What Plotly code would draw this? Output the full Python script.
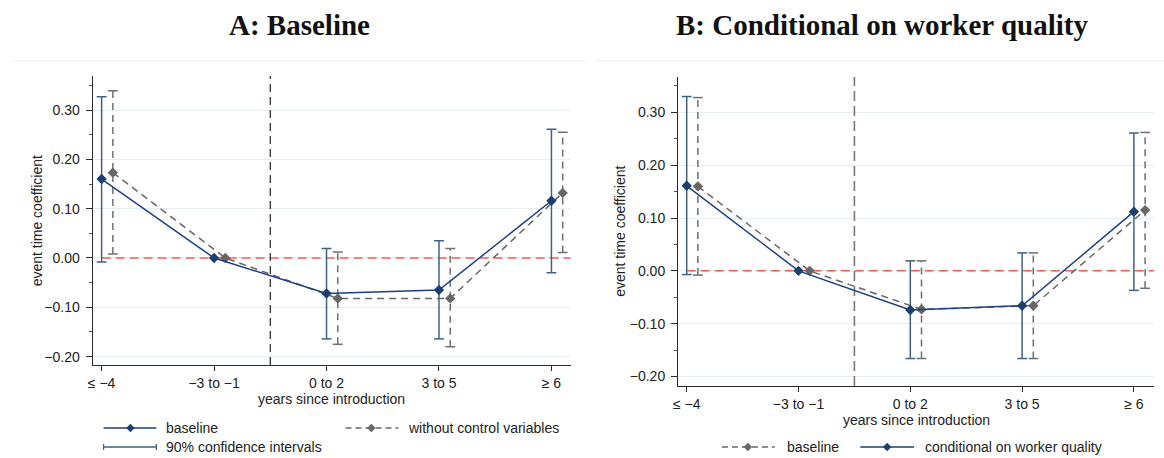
import numpy as np
import plotly.graph_objects as go

# ---------------- data ----------------
categories = ["≤ −4", "−3 to −1", "0 to 2", "3 to 5", "≥ 6"]
y_tick_vals = [-0.2, -0.1, 0.0, 0.1, 0.2, 0.3]
y_tick_text = ["−0.20", "−0.10", "0.00", "0.10", "0.20", "0.30"]

# Panel A
a_baseline = [0.160, 0.0, -0.072, -0.065, 0.116]
a_baseline_lo = [-0.008, None, -0.164, -0.164, -0.030]
a_baseline_hi = [0.327, None, 0.019, 0.035, 0.261]
a_noctrl = [0.173, 0.0, -0.082, -0.082, 0.132]
a_noctrl_lo = [0.008, None, -0.175, -0.180, 0.011]
a_noctrl_hi = [0.339, None, 0.012, 0.019, 0.255]

# Panel B
b_baseline = [0.160, 0.0, -0.073, -0.066, 0.115]
b_baseline_lo = [-0.008, None, -0.166, -0.166, -0.033]
b_baseline_hi = [0.328, None, 0.019, 0.034, 0.262]
b_cond = [0.161, 0.0, -0.074, -0.066, 0.112]
b_cond_lo = [-0.007, None, -0.166, -0.166, -0.037]
b_cond_hi = [0.330, None, 0.019, 0.034, 0.261]

zero_level = 0.0
intro_position = 2.5

# ---------------- style ----------------
W, H = 1164, 458
BLUE = "#1c3f8c"
BLUE_MK = "#1a3f70"
BLUE_CI = "#3e6186"
GRAY = "#666666"
GRAY_CI = "#6f6f6f"
RED = "#ff5a5a"
SANS = "Liberation Sans, Arial, sans-serif"
SERIF = "Liberation Serif, Times New Roman, serif"
GRAY_DASH = "7px,5px"

def px(x):
    return x / W

def py(y):
    return 1 - y / H

pos = np.arange(1, len(categories) + 1, dtype=float)
offset = 0.1

A_left, A_right, A_top, A_bot = 88, 568, 76, 365
B_left, B_right, B_top, B_bot = 676, 1154, 77, 386
xr_A = [0.92, 5.17]
xr_B = [0.923, 5.18]
yr_A = [-0.217, 0.369]
yr_B = [-0.218, 0.367]

fig = go.Figure()


def add_reflines(xa, ya, xr, yr, vcolor, vdash, vwidth):
    fig.add_trace(go.Scatter(x=[1, xr[1]], y=[zero_level, zero_level], mode="lines",
                             xaxis=xa, yaxis=ya,
                             line=dict(color=RED, width=1.5, dash="9px,5px"),
                             showlegend=False, hoverinfo="skip"))
    fig.add_trace(go.Scatter(x=[intro_position, intro_position], y=[yr[0], yr[1]],
                             mode="lines", xaxis=xa, yaxis=ya,
                             line=dict(color=vcolor, width=vwidth, dash=vdash),
                             showlegend=False, hoverinfo="skip"))


def add_series(xa, ya, xs, vals, lo, hi, color, mk_color, ci_color, dash, name):
    sx, sy, cx, cy = [], [], [], []
    for x, l, h in zip(xs, lo, hi):
        if l is None:
            continue
        sx += [x, x, None]
        sy += [l, h, None]
        cx += [x, x]
        cy += [l, h]
    fig.add_trace(go.Scatter(x=sx, y=sy, mode="lines", xaxis=xa, yaxis=ya,
                             line=dict(color=ci_color, width=1.5,
                                       dash=dash if dash else "solid"),
                             showlegend=False, hoverinfo="skip"))
    fig.add_trace(go.Scatter(x=cx, y=cy, mode="markers", xaxis=xa, yaxis=ya,
                             marker=dict(symbol="line-ew-open", size=7, color=ci_color,
                                         line=dict(color=ci_color, width=1.5)),
                             showlegend=False, hoverinfo="skip"))
    fig.add_trace(go.Scatter(x=list(xs), y=vals, mode="lines+markers",
                             xaxis=xa, yaxis=ya, name=name,
                             line=dict(color=color, width=1.5,
                                       dash=dash if dash else "solid"),
                             marker=dict(symbol="diamond", size=8, color=mk_color),
                             showlegend=False))


# Panel A
add_reflines("x", "y", xr_A, yr_A, "#333333", "8px,5px", 1.3)
add_series("x", "y", pos + offset, a_noctrl, a_noctrl_lo, a_noctrl_hi,
           GRAY, GRAY, GRAY_CI, GRAY_DASH, "without control variables")
add_series("x", "y", pos, a_baseline, a_baseline_lo, a_baseline_hi,
           BLUE, BLUE_MK, BLUE_CI, None, "baseline")

# Panel B
add_reflines("x2", "y2", xr_B, yr_B, "#777777", "10px,5px", 1.6)
add_series("x2", "y2", pos + offset, b_baseline, b_baseline_lo, b_baseline_hi,
           GRAY, GRAY, GRAY_CI, GRAY_DASH, "baseline")
add_series("x2", "y2", pos, b_cond, b_cond_lo, b_cond_hi,
           BLUE, BLUE_MK, BLUE_CI, None, "conditional on worker quality")

# ---------------- axes ----------------
minor_vals = list(np.round(np.arange(-0.20, 0.36, 0.05), 2))

def xaxis_cfg(dom, rng):
    return dict(domain=[px(dom[0]), px(dom[1])], range=rng,
                tickvals=list(pos), ticktext=categories,
                showline=True, linecolor="#2b2b2b", linewidth=1.2,
                ticks="outside", ticklen=5, tickcolor="#2b2b2b", tickwidth=1,
                showgrid=False, zeroline=False,
                tickfont=dict(family=SANS, size=14, color="#222"), fixedrange=True)

def yaxis_cfg(dom, rng, anchor):
    return dict(domain=[py(dom[1]), py(dom[0])], range=rng, anchor=anchor,
                tickvals=y_tick_vals, ticktext=y_tick_text,
                showline=True, linecolor="#2b2b2b", linewidth=1.2,
                ticks="outside", ticklen=6, tickcolor="#2b2b2b", tickwidth=1,
                showgrid=True, gridcolor="#e6eef2", gridwidth=1,
                zeroline=False, ticklabelstandoff=3,
                minor=dict(tickvals=minor_vals, ticks="outside", ticklen=3,
                           tickcolor="#555", showgrid=False),
                tickfont=dict(family=SANS, size=14, color="#222"), fixedrange=True)

fig.update_layout(
    width=W, height=H,
    margin=dict(l=0, r=0, t=0, b=0),
    paper_bgcolor="white", plot_bgcolor="white",
    showlegend=False,
    xaxis=dict(anchor="y", **xaxis_cfg((A_left, A_right), xr_A)),
    yaxis=yaxis_cfg((A_top, A_bot), yr_A, "x"),
    xaxis2=dict(anchor="y2", **xaxis_cfg((B_left, B_right), xr_B)),
    yaxis2=yaxis_cfg((B_top, B_bot), yr_B, "x2"),
)

shapes = []
# faint panel borders
shapes.append(dict(type="line", xref="paper", yref="paper", x0=px(7), x1=px(584),
                   y0=py(61), y1=py(61), line=dict(color="#eeeeee", width=1)))
shapes.append(dict(type="line", xref="paper", yref="paper", x0=px(594), x1=px(1164),
                   y0=py(61), y1=py(61), line=dict(color="#eeeeee", width=1)))


def legend_line(x0, x1, y, color, dash=None, diamond=None, caps=False, width=1.5):
    shapes.append(dict(type="line", xref="paper", yref="paper",
                       x0=px(x0), x1=px(x1), y0=py(y), y1=py(y),
                       line=dict(color=color, width=width, dash=dash or "solid")))
    if diamond is not None:
        d = 4
        path = (f"M {px(diamond)},{py(y - d)} L {px(diamond + d)},{py(y)} "
                f"L {px(diamond)},{py(y + d)} L {px(diamond - d)},{py(y)} Z")
        shapes.append(dict(type="path", xref="paper", yref="paper", path=path,
                           fillcolor=color, line=dict(color=color, width=0.5)))
    if caps:
        for xc in (x0, x1):
            shapes.append(dict(type="line", xref="paper", yref="paper",
                               x0=px(xc), x1=px(xc), y0=py(y - 3), y1=py(y + 3),
                               line=dict(color=color, width=1.3)))


annotations = []

def text(x, y, s, size=14, family=SANS, anchor="left", angle=0, color="#222"):
    annotations.append(dict(x=px(x), y=py(y), xref="paper", yref="paper", text=s,
                            showarrow=False, xanchor=anchor, yanchor="middle",
                            textangle=angle,
                            font=dict(family=family, size=size, color=color)))

# titles
text(296, 25, "<b>A: Baseline</b>", size=29, family=SERIF, anchor="center", color="#111")
text(881, 25, "<b>B: Conditional on worker quality</b>", size=29, family=SERIF,
     anchor="center", color="#111")

# axis titles
text(32, (A_top + A_bot) / 2, "event time coefficient", angle=-90, anchor="center")
text(617, (B_top + B_bot) / 2, "event time coefficient", angle=-90, anchor="center")
text((A_left + A_right) / 2, 399, "years since introduction", anchor="center")
text((B_left + B_right) / 2, 420, "years since introduction", anchor="center")

# legend A
legend_line(99, 152, 428, BLUE_MK, diamond=126)
text(160, 428, "baseline")
legend_line(342, 395, 428, GRAY, dash="6px,4px", diamond=368)
text(403, 428, "without control variables")
legend_line(99, 152, 447, BLUE_CI, caps=True)
text(160, 447, "90% confidence intervals")

# legend B
legend_line(720, 773, 447, GRAY, dash="6px,4px", diamond=746)
text(783, 447, "baseline")
legend_line(859, 913, 447, BLUE_MK, diamond=886)
text(922, 447, "conditional on worker quality")

fig.update_layout(shapes=shapes, annotations=annotations)

fig.write_html("out.html")
